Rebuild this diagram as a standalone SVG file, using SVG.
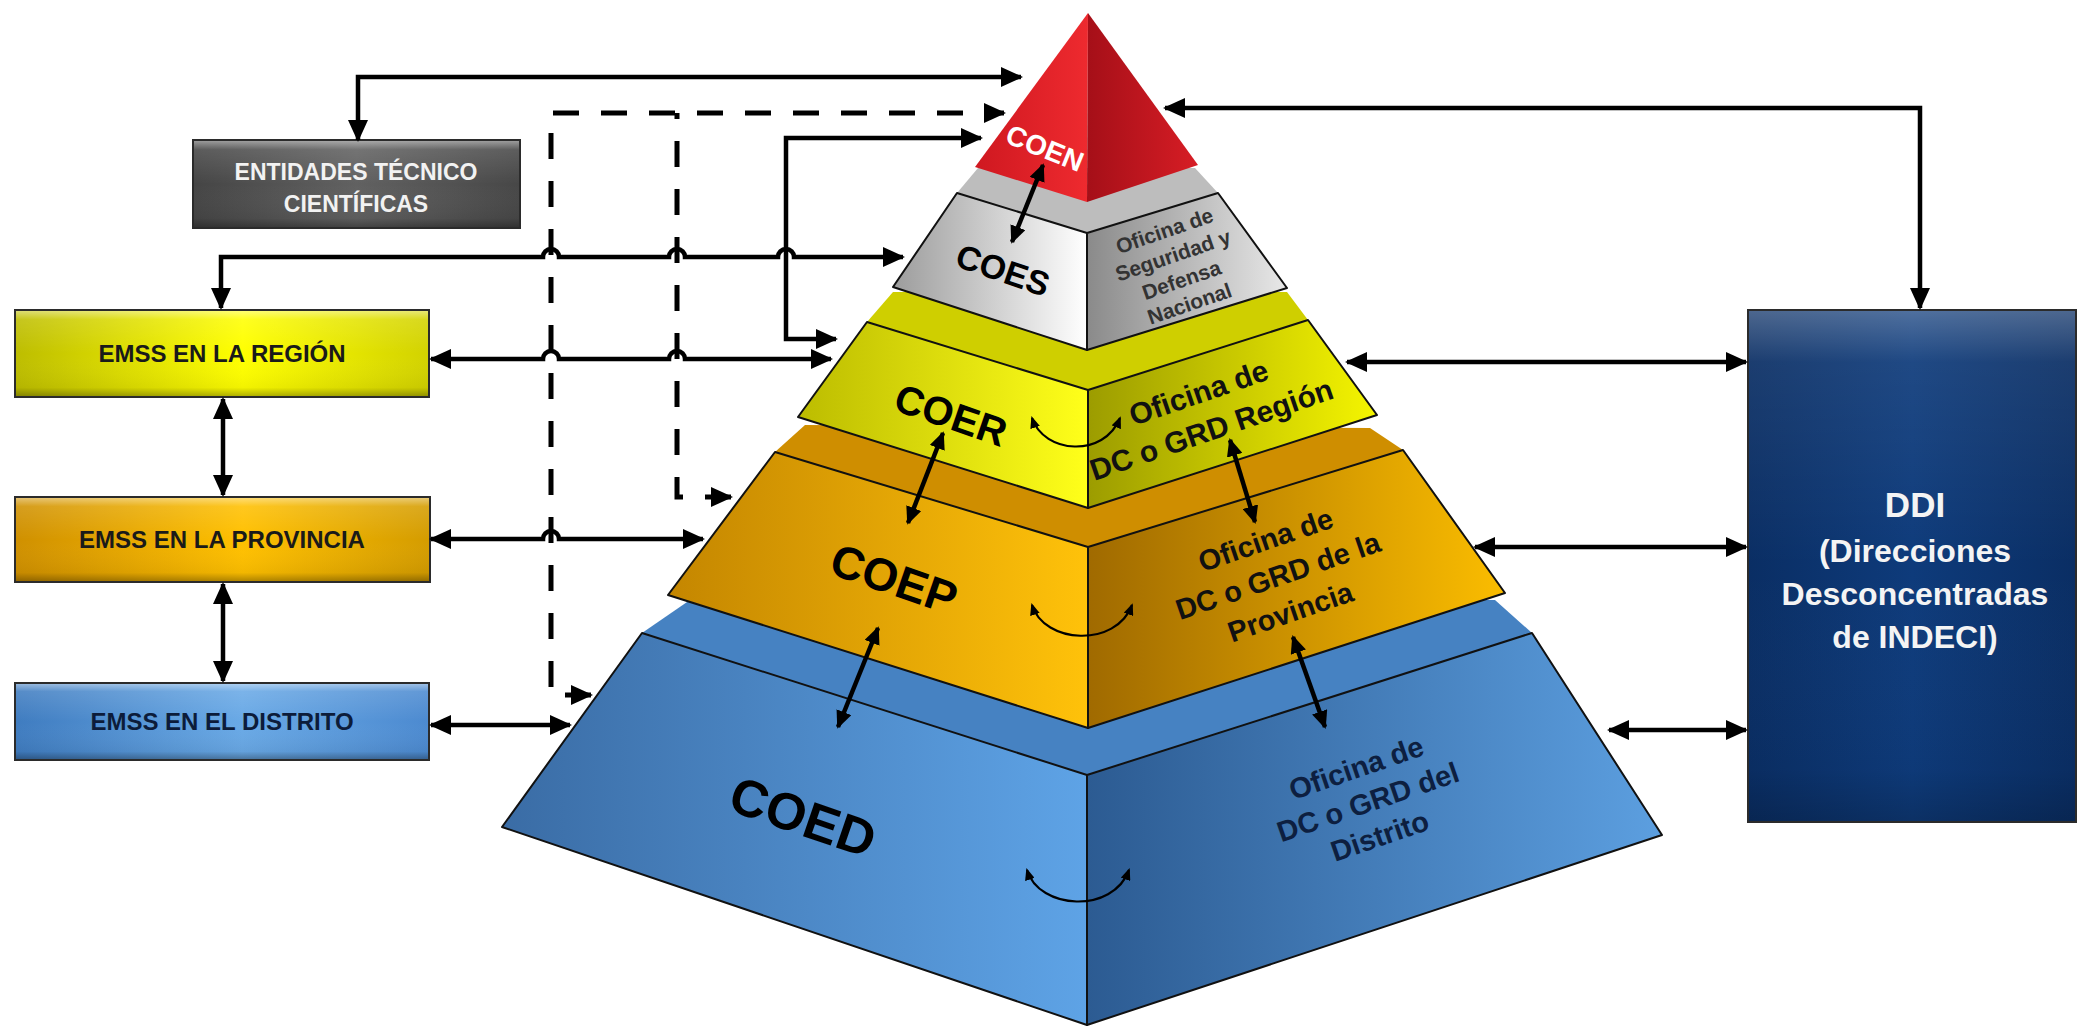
<svg xmlns="http://www.w3.org/2000/svg" width="2080" height="1027" viewBox="0 0 2080 1027">
<defs>
<style>
.t{font-family:"Liberation Sans",Arial,sans-serif;font-weight:bold;text-anchor:middle}
.edge{stroke:#111;stroke-width:2;stroke-linejoin:round}
.box{stroke:#2b2b2b;stroke-width:2}
.con{fill:none;stroke:#000;stroke-width:4.5;marker-end:url(#ah)}
.both{marker-start:url(#ah)}
.dash{fill:none;stroke:#000;stroke-width:5;stroke-dasharray:26 22}
.pa{fill:none;stroke:#000;stroke-width:4.5;marker-start:url(#as);marker-end:url(#as)}
.ca{fill:none;stroke:#000;stroke-width:2.2;marker-start:url(#at);marker-end:url(#at)}
</style>
<marker id="ah" viewBox="0 0 22 20" refX="20" refY="10" markerWidth="22" markerHeight="20" markerUnits="userSpaceOnUse" orient="auto-start-reverse"><path d="M0,0 L22,10 L0,20 z" fill="#000"/></marker>
<marker id="as" viewBox="0 0 18 16" refX="16" refY="8" markerWidth="18" markerHeight="16" markerUnits="userSpaceOnUse" orient="auto-start-reverse"><path d="M0,0 L18,8 L0,16 z" fill="#000"/></marker>
<marker id="at" viewBox="0 0 12 10" refX="10" refY="5" markerWidth="12" markerHeight="10" markerUnits="userSpaceOnUse" orient="auto-start-reverse"><path d="M0,0 L12,5 L0,10 z" fill="#000"/></marker>
<linearGradient id="gCOENL" x1="0" x2="1"><stop offset="0" stop-color="#cf1820"/><stop offset="1" stop-color="#ee2a2f"/></linearGradient>
<linearGradient id="gCOENR" x1="0" x2="1"><stop offset="0" stop-color="#a50f18"/><stop offset="1" stop-color="#d71d25"/></linearGradient>
<linearGradient id="gCOESL" x1="0" x2="1"><stop offset="0" stop-color="#9c9c9c"/><stop offset="1" stop-color="#ffffff"/></linearGradient>
<linearGradient id="gCOESR" x1="0" x2="1"><stop offset="0" stop-color="#8a8a8a"/><stop offset="1" stop-color="#e8e8e8"/></linearGradient>
<linearGradient id="gCOERL" x1="0" x2="1"><stop offset="0" stop-color="#bcbc00"/><stop offset="1" stop-color="#ffff1a"/></linearGradient>
<linearGradient id="gCOERR" x1="0" x2="1"><stop offset="0" stop-color="#9c9c00"/><stop offset="1" stop-color="#f5f500"/></linearGradient>
<linearGradient id="gCOEPL" x1="0" x2="1"><stop offset="0" stop-color="#c48600"/><stop offset="1" stop-color="#ffc20a"/></linearGradient>
<linearGradient id="gCOEPR" x1="0" x2="1"><stop offset="0" stop-color="#a06a00"/><stop offset="1" stop-color="#fbbd00"/></linearGradient>
<linearGradient id="gCOEDL" x1="0" x2="1"><stop offset="0" stop-color="#3a6ca5"/><stop offset="1" stop-color="#5ea3e6"/></linearGradient>
<linearGradient id="gCOEDR" x1="0" x2="1"><stop offset="0" stop-color="#2c5b92"/><stop offset="1" stop-color="#5c9fe0"/></linearGradient>
<linearGradient id="gEnt" x1="0" x2="1"><stop offset="0" stop-color="#454545"/><stop offset="0.5" stop-color="#616161"/><stop offset="1" stop-color="#474747"/></linearGradient>
<linearGradient id="gReg" x1="0" x2="1"><stop offset="0" stop-color="#bdbd00"/><stop offset="0.55" stop-color="#ffff00"/><stop offset="1" stop-color="#d2d200"/></linearGradient>
<linearGradient id="gProv" x1="0" x2="1"><stop offset="0" stop-color="#cf9000"/><stop offset="0.55" stop-color="#ffc000"/><stop offset="1" stop-color="#d49c00"/></linearGradient>
<linearGradient id="gDist" x1="0" x2="1"><stop offset="0" stop-color="#3f7cc0"/><stop offset="0.55" stop-color="#69a9e6"/><stop offset="1" stop-color="#4c8ad0"/></linearGradient>
<linearGradient id="gDDI" x1="0" x2="1"><stop offset="0" stop-color="#0a2e64"/><stop offset="0.5" stop-color="#0e3b7b"/><stop offset="1" stop-color="#0a2e64"/></linearGradient>
<linearGradient id="bevel" x1="0" y1="0" x2="0" y2="1"><stop offset="0" stop-color="#fff" stop-opacity="0.45"/><stop offset="0.1" stop-color="#fff" stop-opacity="0.12"/><stop offset="0.5" stop-color="#fff" stop-opacity="0"/><stop offset="0.9" stop-color="#000" stop-opacity="0.05"/><stop offset="1" stop-color="#000" stop-opacity="0.3"/></linearGradient>
</defs>
<rect width="2080" height="1027" fill="#fff"/>

<!-- Pyramid -->
<g id="coed">
<polygon points="642,633 690,600 1495,600 1532,633 1087,775" fill="#4682c2"/>
<polygon class="edge" points="642,633 502,827 1087,1025 1087,775" fill="url(#gCOEDL)"/>
<polygon class="edge" points="1087,775 1532,633 1662,835 1087,1025" fill="url(#gCOEDR)"/>
<text class="t" font-size="52" fill="#000" transform="translate(803,817) rotate(19)" y="18">COED</text>
<g transform="translate(1368,802) rotate(-19)" fill="#0d1f40"><text class="t" font-size="29" y="-26">Oficina de</text><text class="t" font-size="29" y="10">DC o GRD del</text><text class="t" font-size="29" y="46">Distrito</text></g>
</g>
<g id="coep">
<polygon points="775,452 805,425 1370,428 1403,450 1088,547" fill="#cf8e00"/>
<polygon class="edge" points="775,452 668,595 1088,728 1088,547" fill="url(#gCOEPL)"/>
<polygon class="edge" points="1088,547 1403,450 1505,593 1088,728" fill="url(#gCOEPR)"/>
<text class="t" font-size="46" fill="#000" transform="translate(894,579) rotate(19)" y="16">COEP</text>
<g transform="translate(1278,576) rotate(-19)" fill="#111"><text class="t" font-size="29" y="-28">Oficina de</text><text class="t" font-size="29" y="10">DC o GRD de la</text><text class="t" font-size="29" y="48">Provincia</text></g>
</g>
<g id="coer">
<polygon points="867,322 893,292 1287,292 1308,320 1088,390" fill="#cfcf00"/>
<polygon class="edge" points="867,322 798,417 1088,508 1088,390" fill="url(#gCOERL)"/>
<polygon class="edge" points="1088,390 1308,320 1377,415 1088,508" fill="url(#gCOERR)"/>
<text class="t" font-size="40" fill="#000" transform="translate(951,415) rotate(19)" y="14">COER</text>
<g transform="translate(1205,411) rotate(-19)" fill="#111"><text class="t" font-size="30" y="-9">Oficina de</text><text class="t" font-size="30" y="30">DC o GRD Región</text></g>
</g>
<g id="coes">
<polygon points="957,193 978,168 1195,168 1218,193 1087,233" fill="#bdbdbd"/>
<polygon class="edge" points="957,193 893,287 1087,350 1087,233" fill="url(#gCOESL)"/>
<polygon class="edge" points="1087,233 1218,193 1287,288 1087,350" fill="url(#gCOESR)"/>
<text class="t" font-size="34" fill="#000" transform="translate(1003,270) rotate(19)" y="12">COES</text>
<g transform="translate(1177,267) rotate(-19)" fill="#333"><text class="t" font-size="21" y="-31">Oficina de</text><text class="t" font-size="21" y="-5">Seguridad y</text><text class="t" font-size="21" y="21">Defensa</text><text class="t" font-size="21" y="46">Nacional</text></g>
</g>
<g id="coen">
<polygon points="1088,13 975,167 1087,202" fill="url(#gCOENL)"/>
<polygon points="1088,13 1198,165 1087,202" fill="url(#gCOENR)"/>
<text class="t" font-size="28" fill="#fff" transform="translate(1045,148) rotate(22)" y="10">COEN</text>
</g>

<!-- Side boxes -->
<g id="entidades">
<rect class="box" x="193" y="140" width="327" height="88" fill="url(#gEnt)"/>
<rect x="194" y="141" width="325" height="86" fill="url(#bevel)"/>
<text class="t" font-size="23" fill="#f2f2f2" x="356" y="180">ENTIDADES TÉCNICO</text>
<text class="t" font-size="23" fill="#f2f2f2" x="356" y="212">CIENTÍFICAS</text>
</g>
<g id="emss-region">
<rect class="box" x="15" y="310" width="414" height="87" fill="url(#gReg)"/>
<rect x="16" y="311" width="412" height="85" fill="url(#bevel)"/>
<text class="t" font-size="24" fill="#1a1a1a" x="222" y="362">EMSS EN LA REGIÓN</text>
</g>
<g id="emss-provincia">
<rect class="box" x="15" y="497" width="415" height="85" fill="url(#gProv)"/>
<rect x="16" y="498" width="413" height="83" fill="url(#bevel)"/>
<text class="t" font-size="24" fill="#1a1a1a" x="222" y="548">EMSS EN LA PROVINCIA</text>
</g>
<g id="emss-distrito">
<rect class="box" x="15" y="683" width="414" height="77" fill="url(#gDist)"/>
<rect x="16" y="684" width="412" height="75" fill="url(#bevel)"/>
<text class="t" font-size="24" fill="#0c1c3a" x="222" y="730">EMSS EN EL DISTRITO</text>
</g>
<g id="ddi">
<rect class="box" x="1748" y="310" width="328" height="512" fill="url(#gDDI)"/>
<rect x="1749" y="311" width="326" height="510" fill="url(#bevel)" opacity="0.6"/>
<text class="t" font-size="35" fill="#f4f4f4" x="1915" y="517">DDI</text>
<text class="t" font-size="32" fill="#f4f4f4" x="1915" y="562">(Direcciones</text>
<text class="t" font-size="32" fill="#f4f4f4" x="1915" y="605">Desconcentradas</text>
<text class="t" font-size="32" fill="#f4f4f4" x="1915" y="648">de INDECI)</text>
</g>

<!-- Connectors -->
<g id="connectors">
<path class="con both" d="M358,140 V77 H1021"/>
<path class="dash" d="M591,695 H551 V113 H1004" marker-start="url(#ah)" marker-end="url(#ah)"/>
<path class="dash" d="M731,497 H677 V113" marker-start="url(#ah)"/>
<path class="con both" d="M981,138 H786 V339 H836"/>
<path class="con both" d="M221,308 V257 H543 A8,8 0 0 1 559,257 H669 A8,8 0 0 1 685,257 H778 A8,8 0 0 1 794,257 H903"/>
<path class="con both" d="M431,359 H543 A8,8 0 0 1 559,359 H669 A8,8 0 0 1 685,359 H831"/>
<path class="con both" d="M431,539 H543 A8,8 0 0 1 559,539 H703"/>
<path class="con both" d="M431,725 H570"/>
<path class="con both" d="M223,399 V495"/>
<path class="con both" d="M223,584 V681"/>
<path class="con both" d="M1165,108 H1920 V308"/>
<path class="con both" d="M1347,362 H1746"/>
<path class="con both" d="M1475,547 H1746"/>
<path class="con both" d="M1609,730 H1746"/>
<path class="pa" d="M1043,165 L1012,242"/>
<path class="pa" d="M943,433 L908,523"/>
<path class="pa" d="M878,628 L838,727"/>
<path class="pa" d="M1230,440 L1255,522"/>
<path class="pa" d="M1293,637 L1325,727"/>
<path class="ca" d="M1032,418 C1044,454 1104,458 1120,418"/>
<path class="ca" d="M1032,605 C1044,644 1116,648 1132,605"/>
<path class="ca" d="M1027,870 C1039,910 1113,914 1129,870"/>
</g>
</svg>
